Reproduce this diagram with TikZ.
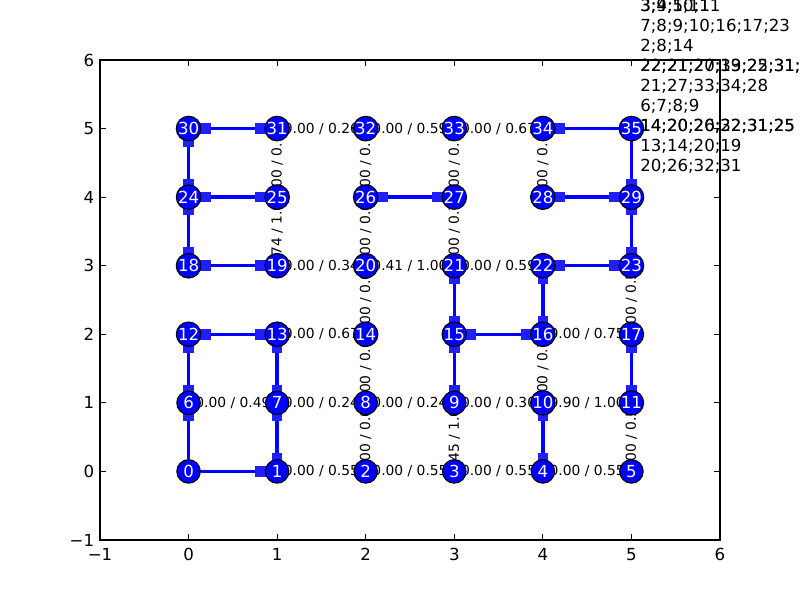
\documentclass[tikz,border=0pt]{standalone}
\usepackage{fontspec}
\setmainfont{DejaVu Sans}
\usetikzlibrary{calc}
\pgfdeclarelayer{bg}
\pgfsetlayers{bg,main}
\newcommand{\elabH}[3]{\node[elab] (l#1x#2) at ($(n#1)!0.5!(n#2)$) {#3};}
\newcommand{\elabV}[3]{\node[elab, rotate=90] (l#1x#2) at ($(n#1)!0.5!(n#2)$) {#3};}
\newcommand{\edgeB}[2]{\draw[edg] (n#1) -- (n#2); \node[sq] (s#1x#2) at ($(n#1)!0.19!(n#2)$) {}; \node[sq] (s#2x#1) at ($(n#2)!0.19!(n#1)$) {};}
\newcommand{\edgeO}[2]{\draw[edg] (n#1) -- (n#2); \node[sq] (s#2x#1) at ($(n#2)!0.19!(n#1)$) {};}
\begin{document}
\begin{tikzpicture}[
  vtx/.style={circle, fill=blue, draw=black, line width=0.8pt, minimum size=0.235in, inner sep=0pt, text=white, font=\fontsize{12}{14}\selectfont},
  edg/.style={draw=blue, line width=2.5pt},
  sq/.style={rectangle, fill=blue!88!white, minimum size=0.105in, inner sep=0pt},
  elab/.style={font=\fontsize{10}{12}\selectfont, inner sep=0pt, text=black},
  tlab/.style={font=\fontsize{12}{14}\selectfont, inner sep=0pt},
  info/.style={font=\fontsize{12}{14}\selectfont, inner sep=0pt, anchor=base west},
  axisbox/.style={draw=black, line width=0.8pt},
  tickmark/.style={draw=black, line width=0.7pt}
]
\useasboundingbox (0,0) rectangle (8in,6in);
\clip (0,0) rectangle (8in,6in);
\begin{scope}[x=0.885714in, y=0.685714in, shift={(1.885714in,1.285714in)}]
  \draw[axisbox] (-1,-1) rectangle (6,6);
  \foreach \t in {-1,...,6} {
    \draw[tickmark] (\t,-1) -- ++(0,0.06in);
    \draw[tickmark] (\t,6) -- ++(0,-0.06in);
    \draw[tickmark] (-1,\t) -- ++(0.06in,0);
    \draw[tickmark] (6,\t) -- ++(-0.06in,0);
  }
  \foreach \t/\l in {-1/−1,0/0,1/1,2/2,3/3,4/4,5/5,6/6} {
    \node[tlab, anchor=north, yshift=-0.08in] (xt\t) at (\t,-1) {\l};
    \node[tlab, anchor=east, xshift=-0.055in] (yt\t) at (-1,\t) {\l};
  }
  \foreach \i in {0,...,35} {
    \pgfmathtruncatemacro\cx{mod(\i,6)}
    \pgfmathtruncatemacro\cy{div(\i,6)}
    \node[vtx] (n\i) at (\cx,\cy) {\i};
  }
  \begin{pgfonlayer}{bg}
    % horizontal edge labels
    \elabH{1}{2}{0.00 / 0.55}
    \elabH{2}{3}{0.00 / 0.55}
    \elabH{3}{4}{0.00 / 0.55}
    \elabH{4}{5}{0.00 / 0.55}
    \elabH{6}{7}{0.00 / 0.49}
    \elabH{7}{8}{0.00 / 0.24}
    \elabH{8}{9}{0.00 / 0.24}
    \elabH{9}{10}{0.00 / 0.30}
    \elabH{10}{11}{0.90 / 1.00}
    \elabH{13}{14}{0.00 / 0.67}
    \elabH{16}{17}{0.00 / 0.75}
    \elabH{19}{20}{0.00 / 0.34}
    \elabH{20}{21}{0.41 / 1.00}
    \elabH{21}{22}{0.00 / 0.59}
    \elabH{31}{32}{0.00 / 0.26}
    \elabH{32}{33}{0.00 / 0.59}
    \elabH{33}{34}{0.00 / 0.67}
    % vertical edge labels
    \elabV{19}{25}{0.74 / 1.00}
    \elabV{25}{31}{0.00 / 0.00}
    \elabV{2}{8}{0.00 / 0.00}
    \elabV{8}{14}{0.00 / 0.00}
    \elabV{14}{20}{0.00 / 0.00}
    \elabV{20}{26}{0.00 / 0.00}
    \elabV{26}{32}{0.00 / 0.00}
    \elabV{3}{9}{0.45 / 1.00}
    \elabV{21}{27}{0.00 / 0.70}
    \elabV{27}{33}{0.00 / 0.70}
    \elabV{10}{16}{0.00 / 0.70}
    \elabV{28}{34}{0.00 / 0.00}
    \elabV{5}{11}{0.00 / 0.50}
    \elabV{17}{23}{0.00 / 0.50}
    % edges
    \edgeO{0}{1}
    \edgeO{0}{6}
    \edgeB{6}{12}
    \edgeB{12}{13}
    \edgeB{1}{7}
    \edgeB{7}{13}
    \edgeB{18}{19}
    \edgeB{18}{24}
    \edgeB{24}{25}
    \edgeB{24}{30}
    \edgeB{30}{31}
    \edgeB{26}{27}
    \edgeB{28}{29}
    \edgeB{23}{29}
    \edgeB{22}{23}
    \edgeB{16}{22}
    \edgeB{15}{16}
    \edgeB{15}{21}
    \edgeB{9}{15}
    \edgeB{4}{10}
    \edgeB{11}{17}
    \edgeO{35}{34}
    \edgeO{35}{29}
  \end{pgfonlayer}
\end{scope}
% path list texts
\node[info] (p1a) at (6.40in, 5.883in) {3;4;5;11};
\node[info] (p1b) at (6.40in, 5.883in) {3;9;10;11};
\node[info] (p2) at (6.40in, 5.683in) {7;8;9;10;16;17;23};
\node[info] (p3) at (6.40in, 5.483in) {2;8;14};
\node[info] (p4a) at (6.40in, 5.283in) {22;21;20;19;25;31;};
\node[info] (p4b) at (6.40in, 5.283in) {22;21;27;33;22;31;};
\node[info] (p5) at (6.40in, 5.083in) {21;27;33;34;28};
\node[info] (p6) at (6.40in, 4.883in) {6;7;8;9};
\node[info] (p7a) at (6.40in, 4.683in) {14;20;26;32;31;25};
\node[info] (p7b) at (6.40in, 4.683in) {14;20;20;22;31;25};
\node[info] (p8) at (6.40in, 4.483in) {13;14;20;19};
\node[info] (p9) at (6.40in, 4.283in) {20;26;32;31};
\end{tikzpicture}
\end{document}
